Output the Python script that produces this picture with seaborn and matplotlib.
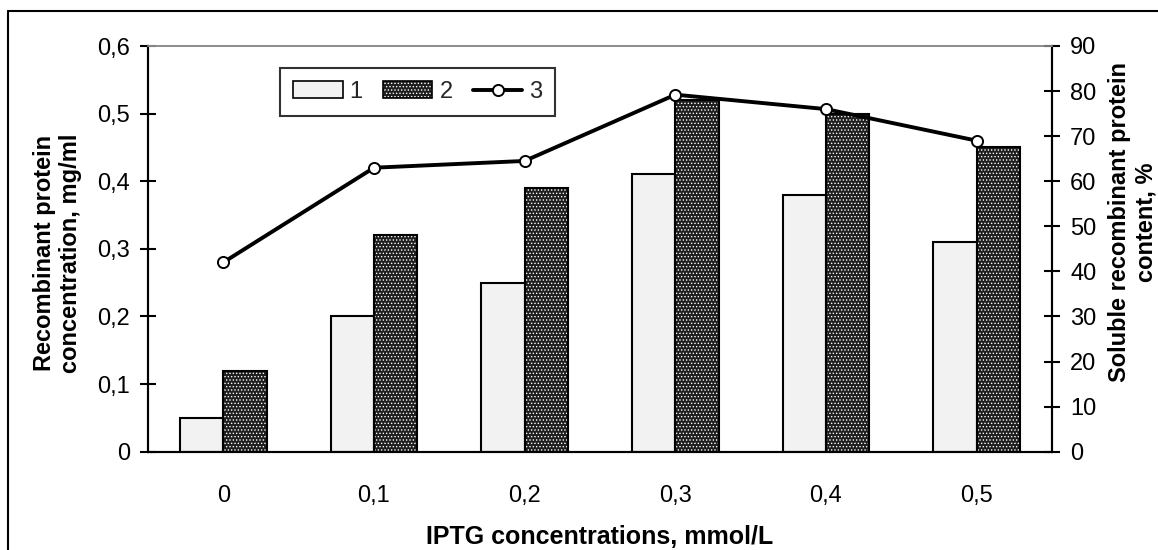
import numpy as np
import pandas as pd
import matplotlib
matplotlib.use("Agg")
import matplotlib.pyplot as plt
import seaborn as sns
from matplotlib.patches import Patch, Rectangle
from matplotlib.lines import Line2D
from matplotlib.legend_handler import HandlerTuple

# ---- data ----
categories = ["0", "0,1", "0,2", "0,3", "0,4", "0,5"]
series1 = [0.05, 0.20, 0.25, 0.41, 0.38, 0.31]      # 1
series2 = [0.12, 0.32, 0.39, 0.52, 0.50, 0.45]      # 2
soluble_pct = [42, 63, 64.5, 79.2, 76, 69]          # 3
left_ticks = [0, 0.1, 0.2, 0.3, 0.4, 0.5, 0.6]
left_ticklabels = ["0", "0,1", "0,2", "0,3", "0,4", "0,5", "0,6"]
right_ticks = [0, 10, 20, 30, 40, 50, 60, 70, 80, 90]
series_names = ["1", "2", "3"]

sns.set_theme(style="white")
plt.rcParams["font.family"] = ["Liberation Sans", "DejaVu Sans"]
plt.rcParams["hatch.linewidth"] = 0.6

FS = 17
fig = plt.figure(figsize=(11.58, 5.5), dpi=100)
ax = fig.add_axes([148/1158, 1-451.7/550, (1052-148)/1158, (451.7-46)/550])

df = pd.DataFrame({
    "cat": categories * 2,
    "val": series1 + series2,
    "series": [series_names[0]] * len(categories) + [series_names[1]] * len(categories),
})
sns.barplot(data=df, x="cat", y="val", hue="series", order=categories,
            hue_order=series_names[:2], palette=["#f2f2f2", "#1e1e1e"],
            width=0.574, edgecolor="black", linewidth=1.5, saturation=1,
            legend=False, ax=ax)

# patterned series 2: white dots on dark, with black outline
bars2 = ax.containers[1]
for p in bars2:
    p.set_hatch(".....")
    p.set_edgecolor("white")
    p.set_linewidth(0)
    ax.add_patch(Rectangle(p.get_xy(), p.get_width(), p.get_height(),
                           fill=False, edgecolor="black", linewidth=1.5, zorder=p.get_zorder() + 0.1))

ax.set_ylim(0, 0.6)
ax.set_xlim(-0.5, len(categories) - 0.5)
ax.set_yticks(left_ticks)
ax.set_yticklabels(left_ticklabels, fontsize=FS)
ax.set_xticks(range(len(categories)))
ax.set_xticklabels(categories, fontsize=FS)
ax.set_xticks(np.arange(len(categories) + 1) - 0.5, minor=True)
ax.tick_params(axis="x", which="major", length=0, pad=24, colors="black")
ax.tick_params(axis="x", which="minor", length=12, width=1.5, direction="inout", colors="black")
ax.tick_params(axis="y", which="major", length=12, width=1.5, direction="inout", pad=7, colors="black")

ax.set_xlabel("IPTG concentrations, mmol/L", fontsize=18, fontweight="bold", color="black")
ax.set_ylabel("Recombinant protein\nconcentration, mg/ml", fontsize=FS, fontweight="bold", color="black")
ax.yaxis.set_label_coords(-0.10, 0.49)
ax.yaxis.label.set_verticalalignment("center")
ax.yaxis.label.set_horizontalalignment("center")
ax.xaxis.set_label_coords(0.5, -0.21)
ax.xaxis.label.set_verticalalignment("center")

# line on secondary axis
ax2 = ax.twinx()
sns.lineplot(x=np.arange(len(categories)), y=soluble_pct, ax=ax2, color="black",
             linewidth=2.8, marker="o", markersize=8, markerfacecolor="white",
             markeredgecolor="black", markeredgewidth=1.4, zorder=5)
ax2.set_ylim(0, 90)
ax2.set_yticks(right_ticks)
ax2.set_yticklabels([str(t) for t in right_ticks], fontsize=FS)
ax2.tick_params(axis="y", which="major", length=12, width=1.5, direction="inout", pad=7, colors="black")
ax2.set_ylabel("Soluble recombinant protein\ncontent, %", fontsize=FS, fontweight="bold",
               color="black", rotation=90)
ax2.yaxis.set_label_coords(1.089, 0.566)
ax2.yaxis.label.set_verticalalignment("center")
ax2.yaxis.label.set_horizontalalignment("center")
ax2.yaxis.label.set_rotation_mode("anchor")

for a in (ax, ax2):
    for s in ("left", "right", "bottom"):
        a.spines[s].set_color("black")
        a.spines[s].set_linewidth(1.5)
    a.spines["top"].set_color("#8c8c8c")
    a.spines["top"].set_linewidth(1.2)
ax2.set_zorder(ax.get_zorder() + 1)
ax2.patch.set_visible(False)

# legend
h1 = Patch(facecolor="#f2f2f2", edgecolor="black", linewidth=1.2)
h2a = Patch(facecolor="#1e1e1e", edgecolor="white", hatch=".....", linewidth=0)
h2b = Patch(facecolor="none", edgecolor="black", linewidth=1.2)
h3 = Line2D([], [], color="black", linewidth=2.8, marker="o", markersize=8,
            markerfacecolor="white", markeredgecolor="black", markeredgewidth=1.4)
leg = ax2.legend([h1, (h2a, h2b), h3], series_names, ncol=3,
                 handler_map={tuple: HandlerTuple(ndivide=1, pad=0)},
                 loc="upper left", bbox_to_anchor=(280/1158, 1-68/550),
                 bbox_transform=fig.transFigure, fontsize=FS, frameon=True,
                 fancybox=False, edgecolor="black", handlelength=2.1,
                 handleheight=0.7, handletextpad=0.3, columnspacing=0.85,
                 borderpad=0.55, borderaxespad=0)
leg.get_frame().set_linewidth(1.5)

# outer frame (left and top edges visible)
fig.add_artist(Line2D([8/1158, 8/1158], [1-11/550, 0], transform=fig.transFigure, color="black", linewidth=1.5))
fig.add_artist(Line2D([8/1158, 1], [1-11/550, 1-11/550], transform=fig.transFigure, color="black", linewidth=1.5))

fig.savefig("out.png", dpi=100)
